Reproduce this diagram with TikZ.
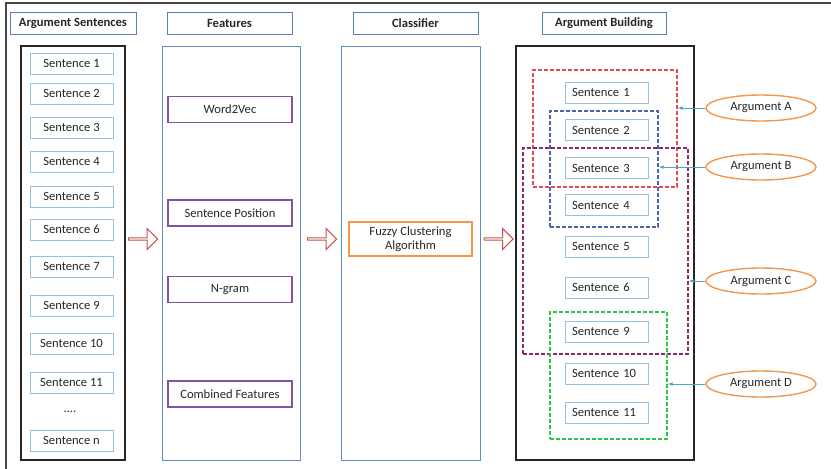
\documentclass[tikz,border=0pt]{standalone}
\usepackage{fontspec}
\setmainfont{Carlito}
\usetikzlibrary{shapes.geometric,shapes.arrows,arrows.meta}

\definecolor{frameGray}{RGB}{70,70,70}
\definecolor{headBlue}{RGB}{90,125,185}
\definecolor{sentBlue}{RGB}{150,192,228}
\definecolor{colBlue}{RGB}{95,140,208}
\definecolor{featPurple}{RGB}{128,84,165}
\definecolor{fuzzyOrange}{RGB}{245,150,72}
\definecolor{flowRed}{RGB}{200,82,78}
\definecolor{linkCyan}{RGB}{75,168,200}
\definecolor{grpRed}{RGB}{222,78,78}
\definecolor{grpBlue}{RGB}{72,100,170}
\definecolor{grpPurple}{RGB}{140,42,112}
\definecolor{grpGreen}{RGB}{40,200,72}

\tikzset{
  txt/.style={font=\fontsize{12.6}{14}\selectfont, text=black!85},
  header/.style={txt, draw=headBlue, line width=1pt, minimum width=#1, minimum height=22pt, inner sep=0pt, font=\fontsize{12.6}{14}\selectfont\bfseries},
  column/.style={draw=#1, line width=1pt, inner sep=0pt},
  sentbox/.style={txt, draw=sentBlue, line width=0.9pt, minimum width=83pt, minimum height=21pt, inner sep=0pt},
  sentleft/.style={txt, draw=sentBlue, line width=0.9pt, text width=69pt, inner xsep=7pt, inner ysep=0pt, minimum height=21pt, align=left},
  featbox/.style={txt, draw=featPurple, line width=1.3pt, minimum width=124pt, minimum height=26pt, inner sep=0pt},
  flowarrow/.style={single arrow, draw=flowRed, line width=1pt, minimum height=29pt, minimum width=21pt, single arrow head extend=4pt, inner sep=0pt},
  group/.style={draw=#1, line width=1.2pt, dash pattern=on 4pt off 2pt, inner sep=0pt},
  argument/.style={txt, ellipse, draw=fuzzyOrange, line width=1.4pt, minimum width=110pt, minimum height=26pt, inner sep=0pt},
  link/.style={draw=linkCyan, line width=1pt, -{Latex[length=5pt,width=4pt]}}
}

\begin{document}
\begin{tikzpicture}[x=1pt,y=-1pt]
\useasboundingbox (0,0) rectangle (831,469);

% outer frame (top and left edges)
\coordinate (frameTL) at (6,3);
\coordinate (frameTR) at (831,3);
\coordinate (frameBL) at (6,469);
\draw[frameGray, line width=1.6pt] (frameBL) -- (frameTL) -- (frameTR);

% column headers
\node[header=126pt] (hSent) at (73,23) {Argument Sentences};
\node[header=125pt] (hFeat) at (229.5,23) {Features};
\node[header=125pt] (hClass) at (415.5,23) {Classifier};
\node[header=124pt] (hBuild) at (604,23) {Argument Building};

% column frames
\node[column=black!85, line width=1.5pt, minimum width=104pt, minimum height=414pt] (colSent) at (73,253) {};
\node[column=colBlue, minimum width=138pt, minimum height=414pt] (colFeat) at (231,253) {};
\node[column=colBlue, minimum width=139pt, minimum height=414pt] (colClass) at (410.5,253) {};
\node[column=black!85, line width=1.5pt, minimum width=178pt, minimum height=414pt] (colBuild) at (605,253) {};

% input sentences
\node[sentbox] (s1) at (71.5,63.5) {Sentence 1};
\node[sentbox] (s2) at (71.5,93.5) {Sentence 2};
\node[sentbox] (s3) at (71.5,127.5) {Sentence 3};
\node[sentbox] (s4) at (71.5,161.5) {Sentence 4};
\node[sentbox] (s5) at (71.5,196.5) {Sentence 5};
\node[sentbox] (s6) at (71.5,229.5) {Sentence 6};
\node[sentbox] (s7) at (71.5,266.5) {Sentence 7};
\node[sentbox] (s9) at (71.5,305.5) {Sentence 9};
\node[sentbox] (s10) at (71.5,343.5) {Sentence 10};
\node[sentbox] (s11) at (71.5,382.5) {Sentence 11};
\node[txt] (sdots) at (70,412) {....};
\node[sentbox] (sn) at (71.5,440.5) {Sentence n};

% features
\node[featbox] (fW2V) at (230,109.5) {Word2Vec};
\node[featbox] (fPos) at (230,213) {Sentence Position};
\node[featbox] (fNgram) at (230,289.5) {N-gram};
\node[featbox] (fComb) at (230,394) {Combined Features};

% classifier
\node[txt, draw=fuzzyOrange, line width=1.4pt, minimum width=123pt, minimum height=34pt, inner sep=0pt, align=center, font=\fontsize{12.6}{14}\selectfont] (fuzzy) at (410.5,239) {Fuzzy Clustering\\Algorithm};

% flow arrows between stages
\node[flowarrow] (flow1) at (142.5,239) {};
\node[flowarrow] (flow2) at (321.5,239) {};
\node[flowarrow] (flow3) at (498,239) {};

% argument groups
\node[group=grpRed, minimum width=144pt, minimum height=117pt] (gA) at (605,128.5) {};
\node[group=grpBlue, minimum width=108pt, minimum height=116pt] (gB) at (604,169) {};
\node[group=grpPurple, minimum width=165pt, minimum height=206pt] (gC) at (605.5,251) {};
\node[group=grpGreen, minimum width=117pt, minimum height=127pt] (gD) at (608.5,375.5) {};

% grouped sentences
\node[sentleft] (b1) at (606.5,92.5) {Sentence 1};
\node[sentleft] (b2) at (606.5,130) {Sentence 2};
\node[sentleft] (b3) at (606.5,168) {Sentence 3};
\node[sentleft] (b4) at (606.5,205) {Sentence 4};
\node[sentleft] (b5) at (606.5,246.5) {Sentence 5};
\node[sentleft] (b6) at (606.5,287.5) {Sentence 6};
\node[sentleft] (b9) at (606.5,331.5) {Sentence 9};
\node[sentleft] (b10) at (606.5,373.5) {Sentence 10};
\node[sentleft] (b11) at (606.5,412.5) {Sentence 11};

% arguments
\node[argument] (argA) at (761,108) {Argument A};
\node[argument] (argB) at (761,167) {Argument B};
\node[argument] (argC) at (761,281) {Argument C};
\node[argument] (argD) at (761,384) {Argument D};

\draw[link] (argA.west) -- (argA.west -| gA.east);
\draw[link] (argB.west) -- (argB.west -| gB.east);
\draw[link] (argC.west) -- (argC.west -| gC.east);
\draw[link] (argD.west) -- (argD.west -| gD.east);
\end{tikzpicture}
\end{document}
